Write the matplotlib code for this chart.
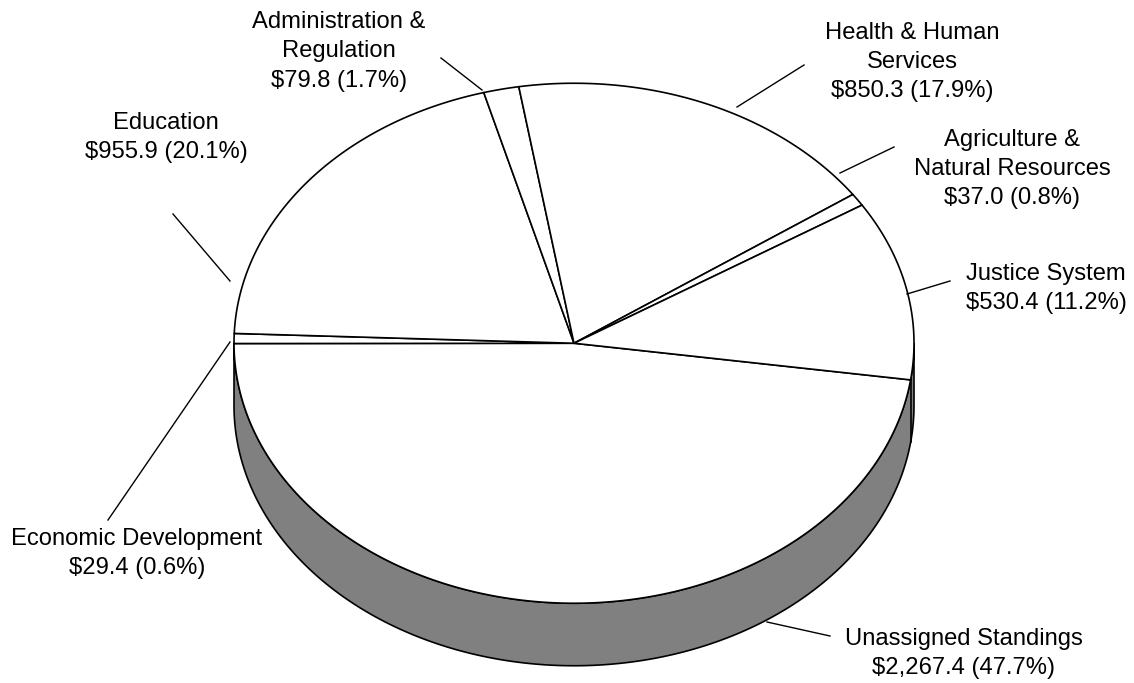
import numpy as np
import matplotlib
matplotlib.use("Agg")
import matplotlib.pyplot as plt

categories = ['Unassigned Standings', 'Economic Development', 'Education',
              'Administration & Regulation', 'Health & Human Services',
              'Agriculture & Natural Resources', 'Justice System']
values = [2267.4, 29.4, 955.9, 79.8, 850.3, 37.0, 530.4]
labels = ['Unassigned Standings\n$2,267.4 (47.7%)',
          'Economic Development\n$29.4 (0.6%)',
          'Education\n$955.9 (20.1%)',
          'Administration &\nRegulation\n$79.8 (1.7%)',
          'Health & Human\nServices\n$850.3 (17.9%)',
          'Agriculture &\nNatural Resources\n$37.0 (0.8%)',
          'Justice System\n$530.4 (11.2%)']
label_pos = [(964, 653.5), (137, 553.5), (166, 137.5), (339, 51.5), (912, 62), (1012, 169), (1046, 288.5)]
leaders = [((830, 636), (767, 622)), ((108, 520), (230, 342)), ((173, 214), (230, 281)),
           ((441, 58), (482, 90)), ((804, 65), (737, 107)), ((894, 147), (840, 173)),
           ((950, 281), (907, 294))]

# pie geometry in pixels
cx, cy = 574, 343.25
rx, ry = 340, 260
depth = 62.5
start_deg = -8.1


def rim(a0, a1, n=200):
    t = np.radians(np.linspace(a0, a1, n))
    return cx + rx * np.cos(t), cy - ry * np.sin(t)


fig = plt.figure(figsize=(11.34, 6.83), dpi=100)
ax = fig.add_axes([0, 0, 1, 1])
ax.set_xlim(0, 1134)
ax.set_ylim(683, 0)
ax.axis('off')
plt.rcParams['font.family'] = ['Liberation Sans', 'DejaVu Sans']

# side wall, with an edge where the big slice starts
x, y = rim(0, -180)
ax.fill(np.r_[x, x[::-1]], np.r_[y, y[::-1] + depth], fc='#808080', ec='black', lw=1.2, zorder=1)
x, y = rim(start_deg, start_deg, 2)
ax.plot(x, [y[0], y[0] + depth], color='black', lw=1.2, zorder=1)

# slices go clockwise from the right side
total = sum(values)
a = start_deg
for v in values:
    sweep = v / total * 360
    x, y = rim(a, a - sweep)
    ax.fill(np.r_[cx, x], np.r_[cy, y], fc='white', ec='black', lw=1.2, joinstyle='round', zorder=2)
    a -= sweep

for lab, (lx, ly), (p0, p1) in zip(labels, label_pos, leaders):
    ax.plot([p0[0], p1[0]], [p0[1], p1[1]], color='black', lw=1, zorder=3)
    ax.text(lx, ly, lab, ha='center', va='center', fontsize=17.1, linespacing=1.44,
            family=['Liberation Sans', 'DejaVu Sans'], zorder=4)

fig.savefig('out.png', dpi=100, facecolor='white')
